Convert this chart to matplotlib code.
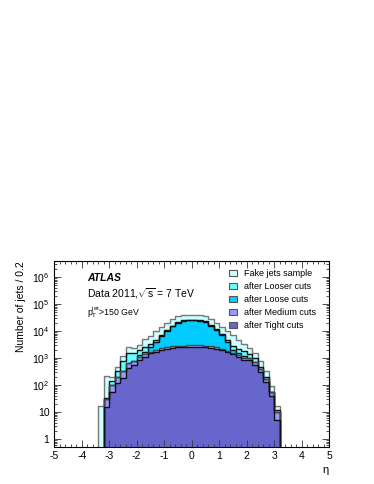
import numpy as np
import matplotlib
matplotlib.use('Agg')
import matplotlib.pyplot as plt
from matplotlib.ticker import MultipleLocator, LogLocator, FixedLocator, FixedFormatter, NullFormatter
from matplotlib.patches import Rectangle

plt.rcParams['font.family'] = ['Liberation Sans', 'DejaVu Sans']
plt.rcParams['mathtext.fontset'] = 'custom'
plt.rcParams['mathtext.rm'] = 'Liberation Sans'
plt.rcParams['mathtext.it'] = 'Liberation Sans:italic'
plt.rcParams['axes.unicode_minus'] = False

# bin edges (width 0.2)
fake_edges = np.round(np.arange(-3.4, 3.21, 0.2), 1)
cut_edges = np.round(np.arange(-3.2, 3.21, 0.2), 1)

fake = [17, 215, 200, 450, 1200, 2600, 2300, 3000, 5000, 6800, 10000, 14000,
        20000, 28000, 35000, 39000, 41000, 41000, 39000, 36000, 28000, 20000,
        14000, 10000, 7000, 4800, 3300, 2400, 1500, 800, 330, 90, 17]
looser = [32, 140, 330, 750, 1500, 1500, 2000, 2600, 3400, 4800, 7200, 10800,
          15800, 21000, 25000, 26500, 26500, 25500, 23000, 17000, 11800, 7600,
          4500, 2700, 2200, 1800, 1400, 1000, 450, 200, 55, 12]
loose = [30, 100, 200, 330, 650, 800, 1300, 1700, 2500, 4000, 6500, 10000,
         15000, 20000, 24000, 25500, 25500, 24500, 22000, 16000, 11000, 7000,
         4000, 2000, 1500, 1200, 1000, 700, 400, 170, 55, 10]
medium = [30, 100, 200, 330, 650, 800, 1100, 1400, 1700, 2000, 2300, 2500,
          2700, 2800, 2900, 3000, 3000, 2950, 2850, 2700, 2500, 2200, 1900,
          1600, 1300, 1050, 1000, 700, 400, 170, 55, 10]
tight = [16, 55, 115, 180, 415, 550, 850, 1100, 1500, 1700, 2000, 2200, 2400,
         2500, 2600, 2650, 2650, 2600, 2500, 2400, 2200, 2000, 1700, 1400,
         1100, 850, 850, 550, 310, 130, 40, 5]

labels = ['Fake jets sample', 'after Looser cuts', 'after Loose cuts',
          'after Medium cuts', 'after Tight cuts']
colors = ['#ccffff', '#66ffff', '#00ccff', '#9999ff', '#6666cc']
edgecols = ['#777777', '#111111', '#111111', '#444444', '#111111']

fig = plt.figure(figsize=(3.74, 4.84), dpi=100)
ax = fig.add_axes([0.145, 0.077, 0.735, 0.384])

series = [(fake_edges, fake), (cut_edges, looser), (cut_edges, loose),
          (cut_edges, medium), (cut_edges, tight)]
for (edges, vals), fc, ec in zip(series, colors, edgecols):
    ax.stairs(vals, edges, baseline=1e-3, fill=True, color=fc, lw=0, zorder=1)
    ax.stairs(vals, edges, baseline=1e-3, fill=False, color=ec, lw=1.0, zorder=2)

ax.set_yscale('log')
ax.set_xlim(-5, 5)
ax.set_ylim(0.52, 4e6)

ax.xaxis.set_major_locator(MultipleLocator(1))
ax.xaxis.set_minor_locator(MultipleLocator(0.2))
ax.yaxis.set_major_locator(FixedLocator([1, 10, 1e2, 1e3, 1e4, 1e5, 1e6]))
ax.yaxis.set_major_formatter(FixedFormatter(['1', '10', '$10^{2}$', '$10^{3}$',
                                             '$10^{4}$', '$10^{5}$', '$10^{6}$']))
ax.yaxis.set_minor_locator(LogLocator(base=10, subs=np.arange(2, 10), numticks=20))
ax.yaxis.set_minor_formatter(NullFormatter())
ax.tick_params(which='both', direction='in', top=True, right=True, labelsize=7.5,
               color='#333333', width=0.6)
ax.tick_params(which='major', length=5)
ax.tick_params(which='minor', length=2.5)
ax.tick_params(axis='x', pad=3)
for s in ax.spines.values():
    s.set_linewidth(0.8)
    s.set_zorder(5)

ax.set_ylabel('Number of jets / 0.2', fontsize=7.5, loc='top', labelpad=4)
ax.text(1.0, -0.10, 'η', transform=ax.transAxes, fontsize=8, ha='right', va='top')

ax.text(0.119, 0.907, 'ATLAS', transform=ax.transAxes, fontsize=7.5,
        fontweight='bold', fontstyle='italic', va='center')
ax.text(0.119, 0.821, r'Data 2011,$\sqrt{\rm s}$ = 7 TeV', transform=ax.transAxes,
        fontsize=7.5, va='center')
ax.text(0.119, 0.724, r'$\mathrm{p}_{\mathrm{T}}^{\mathrm{jet}}$>150 GeV',
        transform=ax.transAxes, fontsize=6.3, va='center')

rows = [0.934, 0.864, 0.794, 0.724, 0.654]
for y, lab, fc in zip(rows, labels, colors):
    ax.add_patch(Rectangle((0.636, y - 0.016), 0.03, 0.032, transform=ax.transAxes,
                           facecolor=fc, edgecolor='#555555', lw=0.8, zorder=6))
    ax.text(0.69, y, lab, transform=ax.transAxes, fontsize=6.5, va='center', zorder=6)

fig.savefig('out.png', dpi=100)
